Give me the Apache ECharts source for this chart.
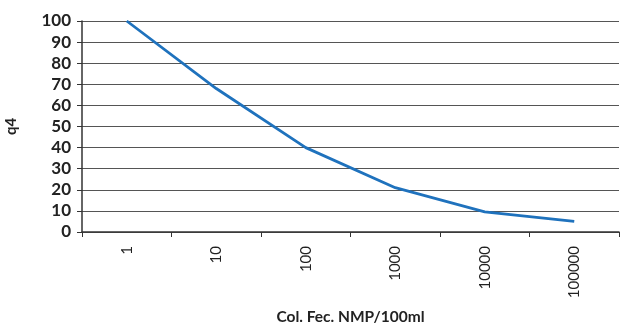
<!DOCTYPE html>
<html><head><meta charset="utf-8">
<script src="https://cdn.jsdelivr.net/npm/echarts@6/dist/echarts.min.js"></script>
<style>html,body{margin:0;padding:0;background:#fff}#c{width:620px;height:325px}</style>
</head><body><div id="c"></div>
<script>
const categories = ['1', '10', '100', '1000', '10000', '100000'];
const q4Values = [100, 68, 40, 21, 9.5, 5];
const yTicks = {min: 0, max: 100, interval: 10};

const chart = echarts.init(document.getElementById('c'), null, {renderer: 'canvas'});
chart.setOption({
  animation: false,
  grid: {left: 82, right: 1, top: 21, bottom: 93, containLabel: false, outerBoundsMode: 'none'},
  xAxis: {
    type: 'category', data: categories, boundaryGap: true,
    name: 'Col. Fec. NMP/100ml', nameLocation: 'middle', nameGap: 77,
    nameTextStyle: {fontFamily: 'Lato', fontWeight: 'bold', fontSize: 15.5, color: '#222'},
    axisLine: {lineStyle: {color: '#333', width: 1.5}},
    axisTick: {show: true, length: 5, lineStyle: {color: '#333'}},
    axisLabel: {rotate: 90, fontFamily: 'Lato', fontSize: 15, color: '#222', margin: 14}
  },
  yAxis: {
    type: 'value', min: yTicks.min, max: yTicks.max, interval: yTicks.interval,
    name: 'q4', nameLocation: 'middle', nameGap: 63, nameRotate: 90,
    nameTextStyle: {fontFamily: 'Lato', fontWeight: 'bold', fontSize: 15, color: '#222'},
    axisLine: {show: true, lineStyle: {color: '#333', width: 1.5}},
    axisTick: {show: true, length: 5, inside: false, lineStyle: {color: '#333'}},
    axisLabel: {fontFamily: 'Lato', fontWeight: 'bold', fontSize: 17, color: '#222', margin: 11},
    splitLine: {lineStyle: {color: '#555', width: 1.2}}
  },
  series: [{
    type: 'line', data: q4Values, showSymbol: false, symbol: 'none',
    lineStyle: {color: '#1f72bd', width: 2.8}
  }]
});
</script></body></html>
